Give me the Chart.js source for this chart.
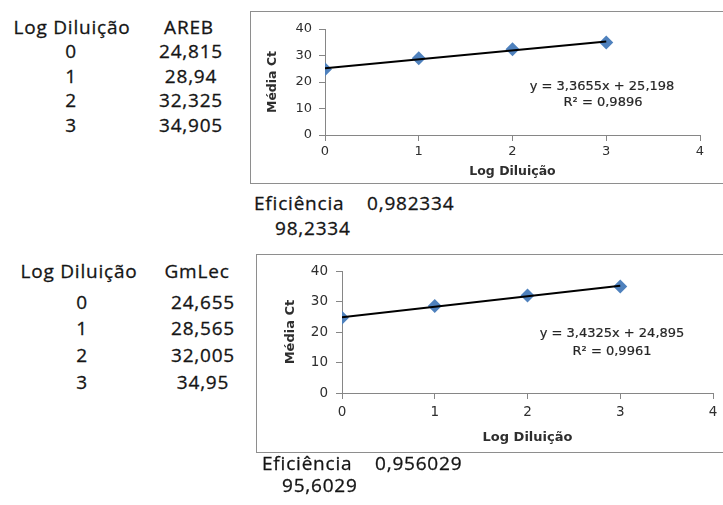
<!DOCTYPE html>
<html>
<head>
<meta charset="utf-8">
<script src="https://cdn.jsdelivr.net/npm/chart.js@4"></script>
<style>
  body { margin: 0; width: 723px; height: 505px; overflow: hidden; background: #fff; position: relative; }
  .t { position: absolute; white-space: nowrap; transform: translate(-50%, -50%); font-family: "Open Sans", sans-serif; font-size: 19px; letter-spacing: 0.8px; color: #151515; -webkit-text-stroke: 0.3px #151515; line-height: 1; }
  .l { transform: translate(0, -50%); }
  .eq { font-family: "DejaVu Sans", sans-serif; font-size: 13px; letter-spacing: 0; color: #262626; -webkit-text-stroke: 0.2px #262626; }
  .box { position: absolute; border: 1px solid #8e8e8e; }
  canvas { position: absolute; left: 0; top: 0; }
</style>
</head>
<body>
<div class="box" id="box1" style="left:250px; top:11px; width:500px; height:171px;">
  <canvas id="chart-areb" width="472" height="171"></canvas>
</div>
<div class="box" id="box2" style="left:256px; top:254px; width:500px; height:197px;">
  <canvas id="chart-gmlec" width="466" height="197"></canvas>
</div>

<script>
// dados
var logDiluicao = [0, 1, 2, 3];
var areb = [24.815, 28.94, 32.325, 34.905];
var gmlec = [24.655, 28.565, 32.005, 34.95];
var arebFit = [3.3655, 25.198];   // inclinação, intercepto
var gmlecFit = [3.4325, 24.895];
var arebR2 = 0.9896;
var gmlecR2 = 0.9961;
var eficiencia = [0.982334, 0.956029];
var eficienciaPct = [98.2334, 95.6029];
var xTicks = [0, 1, 2, 3, 4];
var yTicks = [0, 10, 20, 30, 40];

function br(v) { return String(v).replace(".", ","); }

function addText(txt, x, y, cls) {
    var d = document.createElement("div");
    d.className = "t" + (cls ? " " + cls : "");
    d.style.left = x + "px";
    d.style.top = y + "px";
    d.textContent = txt;
    document.body.appendChild(d);
}

// Start tabelas
function table(name, values, pos) {
    addText("Log Diluição", pos.c1, pos.head);
    addText(name, pos.c2h, pos.head);
    for (var i = 0; i < logDiluicao.length; i++) {
        addText(String(logDiluicao[i]), pos.c1v, pos.rows[i]);
        addText(br(values[i]), pos.c2, pos.rows[i]);
    }
}
table("AREB", areb, { c1: 72, c1v: 71, c2h: 189, c2: 191, head: 27, rows: [51, 76, 100, 125] });
table("GmLec", gmlec, { c1: 79, c1v: 82, c2h: 197, c2: 203, head: 271, rows: [302, 328, 355, 382] });

addText("Eficiência", 254, 203, "l");
addText(br(eficiencia[0]), 367, 203, "l");
addText(br(eficienciaPct[0]), 275, 228, "l");
addText("Eficiência", 262, 463, "l");
addText(br(eficiencia[1]), 375, 463, "l");
addText(br(eficienciaPct[1]), 282, 485, "l");

addText("y = " + br(arebFit[0]) + "x + " + br(arebFit[1]), 602, 85, "eq");
addText("R² = " + br(arebR2), 603, 101, "eq");
addText("y = " + br(gmlecFit[0]) + "x + " + br(gmlecFit[1]), 612, 332, "eq");
addText("R² = " + br(gmlecR2), 612, 350, "eq");
// Akhir tabelas

function makeChart(id, values, fit, o) {
    var pts = logDiluicao.map(function (x, i) { return { x: x, y: values[i] }; });
    var x0 = logDiluicao[0], x1 = logDiluicao[logDiluicao.length - 1];
    var trend = [{ x: x0, y: fit[0] * x0 + fit[1] }, { x: x1, y: fit[0] * x1 + fit[1] }];
    var ctx = document.getElementById(id).getContext("2d");
    return new Chart(ctx, {
        type: "scatter",
        data: {
            datasets: [
                {
                    label: "Linear",
                    data: trend,
                    showLine: true,
                    borderColor: "#000",
                    borderWidth: 2,
                    pointRadius: 0
                },
                {
                    label: "Média Ct",
                    data: pts,
                    pointStyle: "rectRot",
                    pointRadius: 7,
                    backgroundColor: "#4f81bd",
                    borderColor: "#4f81bd",
                    borderWidth: 0
                }
            ]
        },
        options: {
            responsive: false,
            animation: false,
            layout: { padding: { left: 0, top: o.top, right: o.right, bottom: 0 } },
            plugins: { legend: { display: false }, tooltip: { enabled: false } },
            scales: {
                x: {
                    type: "linear",
                    min: 0, max: 4,
                    afterBuildTicks: function (s) { s.ticks = xTicks.map(function (v) { return { value: v }; }); },
                    afterFit: function (s) { s.height = o.xh; },
                    grid: { drawOnChartArea: false, tickLength: 6, color: "#868686" },
                    border: { color: "#868686" },
                    ticks: { padding: o.xpad, color: "#2e2e2e", font: { family: "DejaVu Sans", size: o.fs } },
                    title: { display: true, text: "Log Diluição", color: "#2e2e2e", padding: { top: 0, bottom: o.xtb }, font: { family: "DejaVu Sans", size: o.tfs, weight: "bold" } }
                },
                y: {
                    min: 0, max: 40,
                    afterBuildTicks: function (s) { s.ticks = yTicks.map(function (v) { return { value: v }; }); },
                    afterFit: function (s) { s.width = o.yw; },
                    grid: { drawOnChartArea: false, tickLength: 6, color: "#868686" },
                    border: { color: "#868686" },
                    ticks: { padding: o.ypad, color: "#2e2e2e", font: { family: "DejaVu Sans", size: o.fs } },
                    title: { display: true, text: "Média Ct", color: "#2e2e2e", padding: { top: o.ytt, bottom: 0 }, font: { family: "DejaVu Sans", size: o.tfs, weight: "bold" } }
                }
            }
        }
    });
}

// Start chart-areb
makeChart("chart-areb", areb, arebFit, { top: 17, right: 23, xh: 48, yw: 74, fs: 13, tfs: 12.5, xpad: 3, ypad: 7, xtb: 4, ytt: 14 });
// Start chart-gmlec
makeChart("chart-gmlec", gmlec, gmlecFit, { top: 12, right: 10, xh: 59, yw: 85, fs: 13.5, tfs: 13, xpad: 5, ypad: 8, xtb: 7, ytt: 26 });
</script>
</body>
</html>
